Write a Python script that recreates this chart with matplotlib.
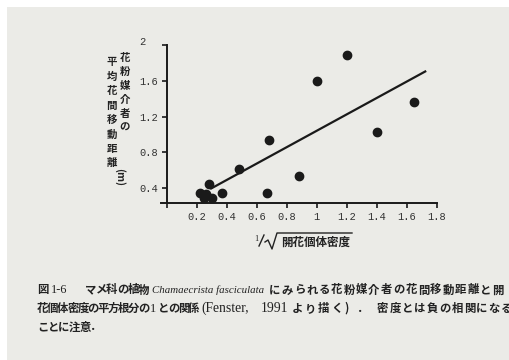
import matplotlib
matplotlib.use("Agg")
import matplotlib.pyplot as plt
from matplotlib.lines import Line2D
from matplotlib.patches import Rectangle

# ------------------------------------------------------------
# data (Fenster 1991)
# ------------------------------------------------------------
x_vals = [0.22, 0.25, 0.26, 0.28, 0.30, 0.37, 0.48, 0.67, 0.68, 0.88, 1.00, 1.20, 1.40, 1.65]
y_vals = [0.34, 0.29, 0.33, 0.45, 0.29, 0.34, 0.61, 0.34, 0.94, 0.54, 1.60, 1.89, 1.03, 1.36]

fit_x = [0.29, 1.73]
fit_y = [0.39, 1.71]

x_ticks = [0, 0.2, 0.4, 0.6, 0.8, 1.0, 1.2, 1.4, 1.6, 1.8]
x_tick_labels = ["", "0.2", "0.4", "0.6", "0.8", "1", "1.2", "1.4", "1.6", "1.8"]
y_ticks = [0.4, 0.8, 1.2, 1.6, 2.0]
y_tick_labels = ["0.4", "0.8", "1.2", "1.6", ""]

ylabel_right = "花粉媒介者の"
ylabel_left = "平均花間移動距離"
xlabel_text = "開花個体密度"

# caption pieces: (text, style, start x in px, char pitch for Japanese)
caption = [
    [("図", "jp", 37, 10.5), ("1-6", "serif", 51, 0), ("マメ科の植物", "jp", 85, 10.6),
     ("Chamaecrista fasciculata", "italic", 152, 0),
     ("にみられる花粉媒介者の花間移動距離と開", "jp", 269, 12.4)],
    [("花個体密度の平方根分の", "jp", 37, 10.1), ("1", "serif", 150, 0),
     ("との関係", "jp", 158, 10.1), ("(Fenster,", "latin", 201, 0),
     ("1991", "latin", 261, 0), ("より描く)．", "jp", 292, 13.0),
     ("密度とは負の相関になる", "jp", 377, 12.4)],
    [("ことに注意．", "jp", 37, 10.6)],
]

W, H = 509, 360
PAPER = "#ebebe7"
INK = "#1a1a1a"
TXT = "#222222"
JP = "Noto Sans CJK JP"


def fx(px):
    return px / W


def fy(py):
    return 1 - py / H


fig = plt.figure(figsize=(W / 100, H / 100), dpi=100)
fig.patch.set_facecolor("white")
fig.add_artist(Rectangle((fx(7), 0), 1.05, 1 - 7 / H, transform=fig.transFigure,
                         facecolor=PAPER, lw=0, zorder=-10))

# ------------------------------------------------------------
# axes
# ------------------------------------------------------------
ax = fig.add_axes([fx(160.7), fy(203.3), 276 / W, 158.3 / H])
ax.set_facecolor("none")
ax.set_xlim(-0.04, 1.8)
ax.set_ylim(0.23, 2.0)

for side in ["top", "right"]:
    ax.spines[side].set_visible(False)
ax.spines["left"].set_position(("data", 0))
for side in ["left", "bottom"]:
    ax.spines[side].set_linewidth(1.4)
    ax.spines[side].set_color(INK)

ax.set_xticks(x_ticks)
ax.set_xticklabels(x_tick_labels)
ax.set_yticks(y_ticks)
ax.set_yticklabels(y_tick_labels)
ax.tick_params(direction="out", length=3.5, width=1.2, color=INK,
               labelcolor="#333333", labelsize=7.5, pad=3)
for lbl in ax.get_xticklabels() + ax.get_yticklabels():
    lbl.set_family("Liberation Mono")

# the "2" label sits off to the left of its tick
ax.annotate("2", xy=(0, 2.0), xytext=(-21, 3), textcoords="offset pixels",
            ha="right", va="center", fontsize=7.5, family="Liberation Mono",
            color="#333333")

ax.plot(fit_x, fit_y, color=INK, lw=1.6, solid_capstyle="butt")
ax.plot(x_vals, y_vals, "o", ms=6, color=INK, clip_on=False, zorder=3)

# ------------------------------------------------------------
# vertical y label (two columns, right one read first)
# ------------------------------------------------------------
for i, ch in enumerate(ylabel_right):
    fig.text(fx(125), fy(58 + i * 14), ch, ha="center", va="center",
             fontsize=7.5, family=JP, fontweight="bold", color=TXT)
for i, ch in enumerate(ylabel_left):
    fig.text(fx(111.7), fy(62 + i * 14.5), ch, ha="center", va="center",
             fontsize=7.5, family=JP, fontweight="bold", color=TXT)
fig.text(fx(120), fy(177), "(m)", rotation=270, ha="center", va="center",
         fontsize=7.5, family=JP, fontweight="bold", color=TXT)

# ------------------------------------------------------------
# x label: 1/sqrt(開花個体密度)
# ------------------------------------------------------------
fig.text(fx(256), fy(239), "1", ha="center", va="center", fontsize=6,
         family="Liberation Serif", color=TXT)
fig.add_artist(Line2D([fx(259), fx(264)], [fy(246), fy(235)], color=TXT, lw=1.0))
fig.add_artist(Line2D([fx(265), fx(268), fx(272), fx(277), fx(352)],
                      [fy(242), fy(240), fy(249), fy(233), fy(233)],
                      color=TXT, lw=1.0))
fig.text(fx(281), fy(242), xlabel_text, ha="left", va="center", fontsize=8.3,
         family=JP, fontweight="bold", color=TXT)

# ------------------------------------------------------------
# caption below the figure (justified book text, set piece by piece)
# ------------------------------------------------------------
styles = {
    "jp": dict(family=JP, fontsize=8.2, fontweight="bold"),
    "serif": dict(family="Liberation Serif", fontsize=8.8),
    "latin": dict(family="Liberation Serif", fontsize=9.8),
    "italic": dict(family="Liberation Serif", fontsize=7.8, style="italic"),
}
for row, segments in enumerate(caption):
    y = 290 + row * 18.5
    for text, kind, x0, pitch in segments:
        if kind == "jp":
            for i, ch in enumerate(text):
                fig.text(fx(x0 + i * pitch), fy(y), ch, ha="left", va="center",
                         color=TXT, **styles[kind])
        else:
            fig.text(fx(x0), fy(y), text, ha="left", va="center",
                     color=TXT, **styles[kind])

fig.savefig("out.png", dpi=100, facecolor=fig.get_facecolor())
